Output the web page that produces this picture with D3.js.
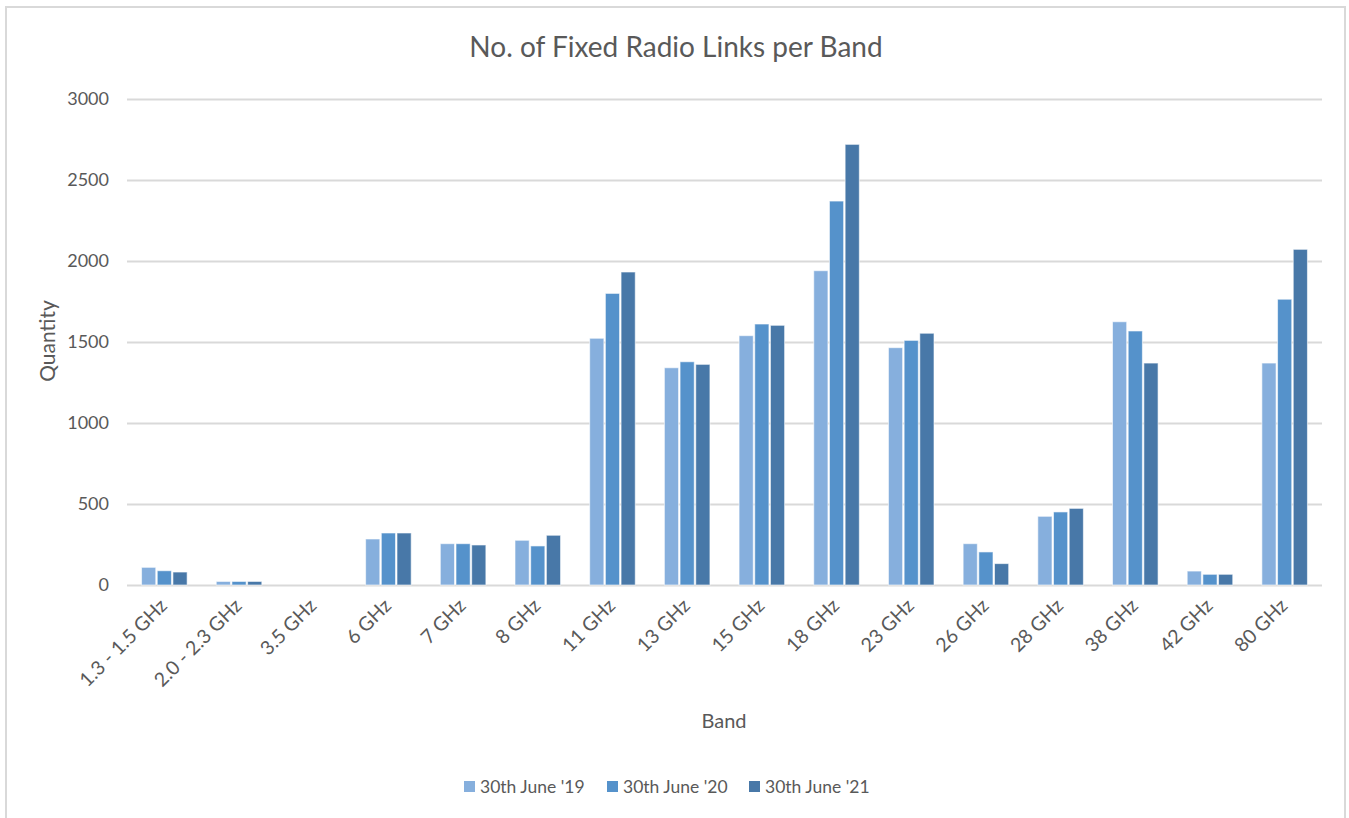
<!DOCTYPE html>
<html>
<head>
  <meta charset="utf-8">
  <title>No. of Fixed Radio Links per Band</title>
  <style>
    body { margin: 0; background: #fff; }
    text { font-family: Lato, "Open Sans", sans-serif; fill: #595959; }
  </style>
</head>
<body>
<script src="https://cdnjs.cloudflare.com/ajax/libs/d3/7.8.5/d3.min.js"></script>
<script>
// data
var bands = ["1.3 - 1.5 GHz", "2.0 - 2.3 GHz", "3.5 GHz", "6 GHz", "7 GHz", "8 GHz",
             "11 GHz", "13 GHz", "15 GHz", "18 GHz", "23 GHz", "26 GHz",
             "28 GHz", "38 GHz", "42 GHz", "80 GHz"];
var seriesNames = ["30th June '19", "30th June '20", "30th June '21"];
var june19 = [109, 22, 0, 284, 255, 276, 1523, 1341, 1539, 1940, 1465, 255, 424, 1625, 86, 1370];
var june20 = [88, 22, 0, 321, 255, 241, 1800, 1378, 1611, 2370, 1510, 204, 451, 1568, 66, 1764];
var june21 = [80, 22, 0, 321, 247, 307, 1932, 1362, 1603, 2720, 1554, 132, 473, 1370, 66, 2072];
var yTicks = [0, 500, 1000, 1500, 2000, 2500, 3000];

var colors = ["#86afdd", "#5592cb", "#4878a8"];
var W = 1349, H = 818;
var plotLeft = 127, plotRight = 1322, plotTop = 99, plotBottom = 585;

var svg = d3.select("body").append("svg")
  .attr("width", W)
  .attr("height", H);

// chart border
svg.append("rect")
  .attr("x", 6).attr("y", 7)
  .attr("width", 1339).attr("height", 830)
  .attr("fill", "none")
  .attr("stroke", "#d9d9d9")
  .attr("stroke-width", 2);

var x0 = d3.scaleBand().domain(bands).range([plotLeft, plotRight]).paddingInner(0.37).paddingOuter(0.185);
var x1 = d3.scaleBand().domain(d3.range(3)).range([0, x0.bandwidth()]);
var y = d3.scaleLinear().domain([0, 3000]).range([plotBottom, plotTop]);

// gridlines + y labels
var yAxis = svg.append("g")
  .attr("transform", "translate(" + plotLeft + ",0)")
  .call(d3.axisLeft(y).tickValues(yTicks).tickFormat(d3.format("d"))
    .tickSize(-(plotRight - plotLeft)).tickPadding(18));
yAxis.select(".domain").remove();
yAxis.selectAll("line").attr("stroke", "#d9d9d9").attr("stroke-width", 2);
yAxis.selectAll("text").style("font-size", "18px").style("fill", "#595959");

var rows = bands.map(function(b, i) { return [june19[i], june20[i], june21[i]]; });

svg.append("g").selectAll("g")
  .data(rows)
  .enter().append("g")
  .attr("transform", function(d, i) { return "translate(" + x0(bands[i]) + ",0)"; })
  .selectAll("rect")
  .data(function(d) { return d; })
  .enter().append("rect")
  .attr("x", function(d, j) { return x1(j) + 0.75; })
  .attr("y", function(d) { return y(d); })
  .attr("width", x1.bandwidth() - 1.5)
  .attr("height", function(d) { return plotBottom - y(d); })
  .attr("fill", function(d, j) { return colors[j]; })
  .attr("stroke", function(d) { return d > 0 ? "#ffffff" : "none"; })
  .attr("stroke-opacity", 0.6)
  .attr("stroke-width", 1);

// x labels
svg.append("g").selectAll("text")
  .data(bands)
  .enter().append("text")
  .attr("transform", function(d) {
    return "translate(" + (x0(d) + x0.bandwidth() / 2 + 4) + ",607) rotate(-45)";
  })
  .attr("text-anchor", "end")
  .style("font-size", "19.5px")
  .text(function(d) { return d; });

// title and axis titles
svg.append("text")
  .attr("x", 676).attr("y", 57)
  .attr("text-anchor", "middle")
  .style("font-size", "28px")
  .text("No. of Fixed Radio Links per Band");

svg.append("text")
  .attr("transform", "translate(55,341) rotate(-90)")
  .attr("text-anchor", "middle")
  .style("font-size", "21px")
  .text("Quantity");

svg.append("text")
  .attr("x", 724).attr("y", 728)
  .attr("text-anchor", "middle")
  .style("font-size", "20px")
  .text("Band");

// legend
var legendX = [464, 607, 749];
var legend = svg.append("g").selectAll("g")
  .data(seriesNames)
  .enter().append("g")
  .attr("transform", function(d, i) { return "translate(" + legendX[i] + ",787)"; });
legend.append("rect")
  .attr("x", 0).attr("y", -6)
  .attr("width", 11).attr("height", 11)
  .attr("fill", function(d, i) { return colors[i]; });
legend.append("text")
  .attr("x", 16).attr("y", 6)
  .style("font-size", "17.5px")
  .text(function(d) { return d; });
</script>
</body>
</html>
